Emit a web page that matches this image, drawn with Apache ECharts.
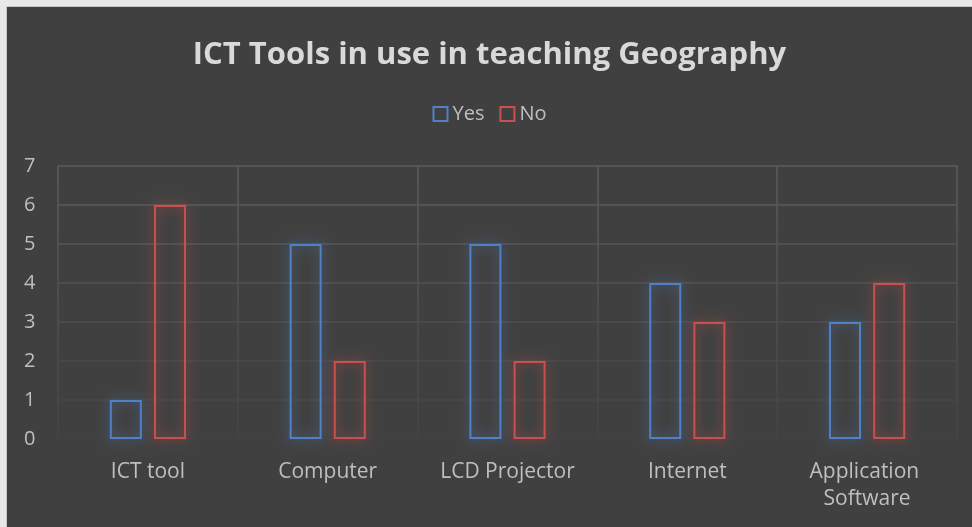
<!DOCTYPE html>
<html>
<head>
<meta charset="utf-8">
<script src="https://cdn.jsdelivr.net/npm/echarts@6/dist/echarts.min.js"></script>
<style>
    html, body { margin: 0; padding: 0; width: 972px; height: 527px; background: #e8e8e8; overflow: hidden; }
    #chart { position: absolute; left: 6px; top: 6px; width: 966px; height: 521px; border-left: 1px solid #c8c8c8; border-top: 1px solid #c8c8c8; box-sizing: border-box; }
</style>
</head>
<body>
<div id="chart"></div>
<script>
var categories = ['ICT tool', 'Computer', 'LCD Projector', 'Internet', 'Application Software'];
var yesValues = [1, 5, 5, 4, 3];
var noValues = [6, 2, 2, 3, 4];
var yTicks = [0, 1, 2, 3, 4, 5, 6, 7];

(function () {
    var myChart = echarts.init(document.getElementById('chart'));
    var textColor = '#bfbfbf';
    var font = '"Open Sans", sans-serif';

    // bar style: hollow with a soft glow
    function hollow(color, glow) {
        return {
            color: 'rgba(0,0,0,0)',
            borderColor: color,
            borderWidth: 2,
            shadowBlur: 12,
            shadowColor: glow
        };
    }

    var option = {
        backgroundColor: '#404040',
        animation: false,
        title: {
            text: 'ICT Tools in use in teaching Geography',
            left: 'center',
            top: 28,
            textStyle: {
                color: '#d9d9d9',
                fontSize: 31,
                fontWeight: 'bold',
                fontFamily: font
            }
        },
        legend: {
            top: 92,
            left: 'center',
            itemWidth: 14,
            itemHeight: 14,
            itemGap: 15,
            textStyle: { color: textColor, fontSize: 20, fontFamily: font },
            data: [
                { name: 'Yes', icon: 'rect', itemStyle: { color: 'rgba(0,0,0,0)', borderColor: '#4f81c4', borderWidth: 2 } },
                { name: 'No', icon: 'rect', itemStyle: { color: 'rgba(0,0,0,0)', borderColor: '#c9504e', borderWidth: 2 } }
            ]
        },
        grid: {
            left: 51,
            right: 15,
            top: 159,
            bottom: 88
        },
        xAxis: {
            type: 'category',
            data: categories,
            axisLine: { show: false },
            axisTick: { show: false },
            axisLabel: {
                interval: 0,
                color: textColor,
                fontSize: 21,
                fontFamily: font,
                margin: 20,
                width: 150,
                overflow: 'break',
                lineHeight: 27
            },
            splitLine: {
                show: true,
                interval: 0,
                lineStyle: {
                    width: 1.5,
                    color: new echarts.graphic.LinearGradient(0, 159, 0, 433, [
                        { offset: 0, color: '#5c5c5c' },
                        { offset: 1, color: '#444444' }
                    ], true)
                }
            }
        },
        yAxis: {
            type: 'value',
            min: yTicks[0],
            max: yTicks[yTicks.length - 1],
            interval: 1,
            axisLine: { show: false },
            axisTick: { show: false },
            axisLabel: {
                color: textColor,
                fontSize: 20,
                fontFamily: font,
                align: 'left',
                margin: 34
            },
            splitLine: {
                lineStyle: {
                    width: 1.5,
                    // bottom to top, fading toward the base
                    color: ['#424242', '#474747', '#4a4a4a', '#4e4e4e', '#525252', '#565656', '#5a5a5a', '#5c5c5c']
                }
            }
        },
        series: [
            {
                name: 'Yes',
                type: 'bar',
                barWidth: 32,
                barGap: '38%',
                data: yesValues,
                itemStyle: hollow('#4f81c4', 'rgba(79,129,196,0.95)')
            },
            {
                name: 'No',
                type: 'bar',
                barWidth: 32,
                data: noValues,
                itemStyle: hollow('#c9504e', 'rgba(201,80,78,0.95)')
            }
        ]
    };
    myChart.setOption(option);
})();
</script>
</body>
</html>
